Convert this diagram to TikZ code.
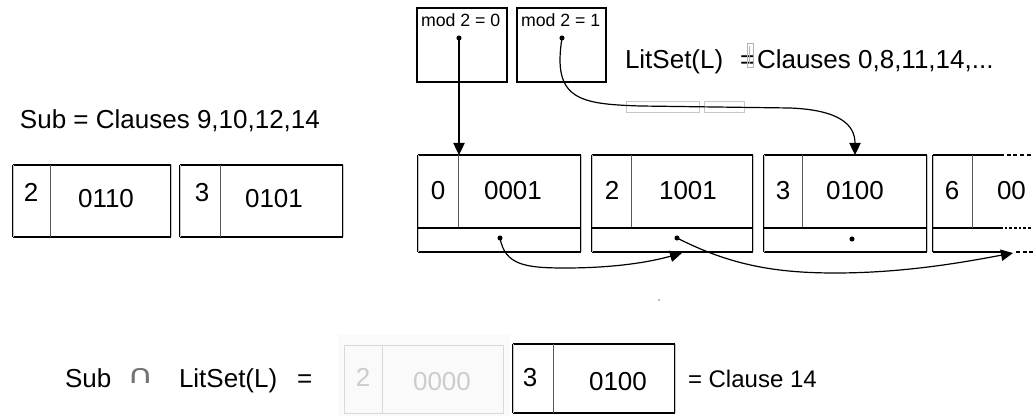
\documentclass[tikz,border=0pt]{standalone}
\usepackage{fontspec}
\setmainfont{Liberation Sans}
\newfontfamily\symfont{DejaVu Sans}
\usetikzlibrary{arrows.meta}
% framed record: name, left, top, width, height (pixel units)
\newcommand{\cellframe}[5]{%
  \node[anchor=north west, minimum width=#4*0.75pt, minimum height=#5*0.75pt] (#1) at (#2,#3) {};
  \draw[edge] (#1.north west) -- (#1.north east) (#1.south west) -- (#1.south east);
  \draw[side] (#1.north west) -- (#1.south west) (#1.north east) -- (#1.south east);
}
\begin{document}
\begin{tikzpicture}[x=0.75pt,y=-0.75pt,
  every node/.style={inner sep=0pt,outer sep=0pt},
  big/.style={font=\fontsize{19.5}{22}\selectfont, anchor=base},
  bigl/.style={font=\fontsize{19.5}{22}\selectfont, anchor=base west},
  small/.style={font=\fontsize{13.3}{15}\selectfont, anchor=base west},
  edge/.style={line width=1pt},
  side/.style={line width=0.7pt, double=gray!45, double distance=0.6pt},
  sep/.style={line width=2.1pt},
  divide/.style={line width=0.6pt, draw=gray!70!black},
  link/.style={line width=0.9pt, -{Triangle[length=9pt,width=8.5pt]}},
  ghost/.style={draw=gray!30, line width=0.7pt},
  ghosttext/.style={text=gray!40},
  dot/.style={fill=black},
]
\useasboundingbox (0,0) rectangle (1033,416);

% ---------- header of the list ----------
\node[draw, line width=1pt, anchor=north west, minimum width=90*0.75pt, minimum height=74*0.75pt] (h0) at (417,8) {};
\node[draw, line width=1pt, anchor=north west, minimum width=89*0.75pt, minimum height=74*0.75pt] (h1) at (517,8) {};
\node[small] (h0l) at (421,27) {mod 2 = 0};
\node[small] (h1l) at (521,27) {mod 2 = 1};
\coordinate (m0) at (459,38);
\coordinate (m1) at (562,38);
\fill[dot] (m0) circle[radius=1.9pt];
\fill[dot] (m1) circle[radius=1.9pt];

\node[bigl] (lit) at (625,69) {LitSet(L)};
\node[bigl] (neq) at (740,69) {=};
\draw[gray!60, line width=0.4pt] (747,43) rectangle (753,67);
\draw[gray!60, line width=0.3pt] (749,46) -- (749,64);
\node[bigl] (litc) at (757,69) {Clauses 0,8,11,14,...};

% faint outlines behind the curved pointer
\draw[gray!45, line width=0.5pt] (626,101) rectangle (699,112);
\draw[gray!45, line width=0.5pt] (704,101) rectangle (744,112);

% ---------- Sub ----------
\node[bigl] (subt) at (20,129) {Sub = Clauses 9,10,12,14};

\cellframe{s2}{13}{165}{158}{72}
\draw[divide] (50,165) -- (50,237);
\node[big] (s2i) at (31,202) {2};
\node[big] (s2b) at (106,208) {0110};

\cellframe{s3}{180}{165}{163}{72}
\draw[divide] (220,165) -- (220,237);
\node[big] (s3i) at (202,202) {3};
\node[big] (s3b) at (274,208) {0101};

% ---------- linked list ----------
\cellframe{n0}{418}{155}{163}{97}
\draw[divide] (458,155) -- (458,228);
\draw[sep] (418,228) -- (581,228);
\node[big] (n0i) at (438,200) {0};
\node[big] (n0b) at (513,200) {0001};
\coordinate (d0) at (500,238);
\fill[dot] (d0) circle[radius=1.9pt];

\cellframe{n2}{592}{155}{161}{97}
\draw[divide] (631,155) -- (631,228);
\draw[sep] (592,228) -- (753,228);
\node[big] (n2i) at (612,200) {2};
\node[big] (n2b) at (688,200) {1001};
\coordinate (d2) at (677,238);
\fill[dot] (d2) circle[radius=1.9pt];

\cellframe{n3}{764}{155}{163}{97}
\draw[divide] (802,155) -- (802,228);
\draw[sep] (764,228) -- (927,228);
\node[big] (n3i) at (783,200) {3};
\node[big] (n3b) at (855,200) {0100};
\coordinate (d3) at (852,239);
\fill[dot] (d3) circle[radius=1.9pt];

% last record, running off the edge
\node[anchor=north west, minimum width=100*0.75pt, minimum height=97*0.75pt] (n6) at (933,155) {};
\draw[side] (n6.north west) -- (n6.south west);
\draw[edge] (933,155) -- (1000,155);
\draw[edge, dash pattern=on 3pt off 2pt] (1000,155) -- (1033,155);
\draw[sep] (933,228) -- (1000,228);
\draw[sep, dash pattern=on 2pt off 1.5pt] (1000,228) -- (1033,228);
\draw[edge] (933,252) -- (1004,252);
\draw[edge, dash pattern=on 3pt off 2pt] (1016,252) -- (1033,252);
\draw[divide] (972,155) -- (972,228);
\node[big] (n6i) at (952,200) {6};
\node[bigl] (n6b) at (997,200) {00};

% pointers
\coordinate (t3) at (855,155);
\coordinate (t2) at (682,253);
\coordinate (t6) at (1013,253);
\draw[link] (m0) -- (m0 |- n0.north);
\draw[link] (m1) .. controls (552,100) and (580,104) .. (640,106) -- (790,108) .. controls (840,110) and (855,125) .. (t3);
\draw[link] (d0) .. controls (505,265) and (525,268) .. (565,268) .. controls (615,268) and (650,262) .. (t2);
\draw[link] (d2) .. controls (730,265) and (775,273) .. (835,273) .. controls (905,273) and (965,262) .. (t6);

\fill[gray!50] (658,299) rectangle (660,301);

% ---------- result ----------
\node[bigl] (rsub) at (65,388) {Sub};
\node[anchor=base west, font=\symfont\fontsize{17}{22}\selectfont, text=gray!90!black] (rcap) at (127,384) {\scalebox{1.6}[1.15]{∩}};
\node[bigl] (rlit) at (179,388) {LitSet(L)};
\node[bigl] (req) at (297,388) {=};

\fill[black!2] (338,335) rectangle (510,416);
\node[ghost, anchor=north west, minimum width=159*0.75pt, minimum height=68*0.75pt] (g2) at (344,345) {};
\draw[ghost] (382,345) -- (382,413);
\node[big, ghosttext] (g2i) at (363,387) {2};
\node[big, ghosttext] (g2b) at (442,391) {0000};

\cellframe{r3}{513}{344}{162}{69}
\draw[divide] (553,344) -- (553,413);
\node[big] (r3i) at (530,387) {3};
\node[big] (r3b) at (618,391) {0100};

\node[anchor=base west, font=\fontsize{18}{22}\selectfont] (rres) at (688,388) {= Clause 14};
\end{tikzpicture}
\end{document}
